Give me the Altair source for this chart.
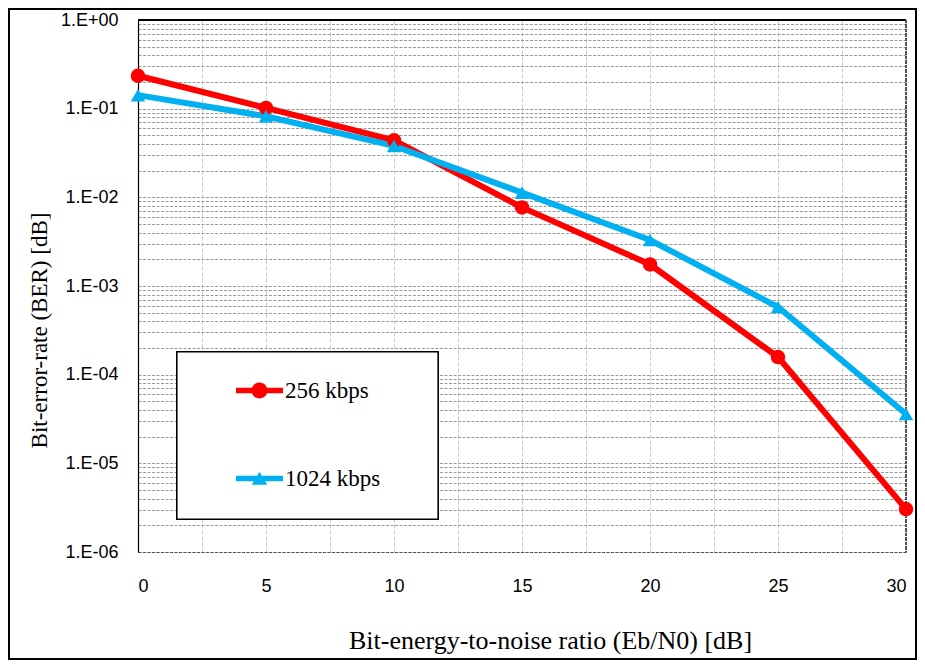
import altair as alt
import pandas as pd

# ---- data ----
ebn0 = [0, 5, 10, 15, 20, 25, 30]
ber_256 = [0.235, 0.102, 0.044, 0.0077, 0.00175, 0.000158, 3.05e-6]
ber_1024 = [0.142, 0.082, 0.038, 0.0113, 0.0033, 0.00058, 3.6e-5]
series_names = ["256 kbps", "1024 kbps"]
series_colors = ["#FF0000", "#00B0F0"]
x_tick_values = [0, 2.5, 5, 7.5, 10, 12.5, 15, 17.5, 20, 22.5, 25, 27.5, 30]
y_tick_values = [k * 10.0 ** e for e in range(-6, 0) for k in range(1, 10)] + [1.0]

rows = []
for name, vals in zip(series_names, [ber_256, ber_1024]):
    for x, y in zip(ebn0, vals):
        rows.append({"x": x, "ber": y, "series": name})
df = pd.DataFrame(rows)

# legend symbols: horizontal bar + marker (custom SVG paths, unit box -1..1)
circle_bar = ("M-1,-0.12 L1,-0.12 L1,0.12 L-1,0.12 Z "
              "M-0.34,0 A0.34,0.34 0 1,1 0.34,0 A0.34,0.34 0 1,1 -0.34,0 Z")
tri_bar = ("M-1,-0.12 L1,-0.12 L1,0.12 L-1,0.12 Z "
           "M0,-0.29 L0.33,0.27 L-0.33,0.27 Z")

W, H = 768, 532
sans = "Liberation Sans"
serif = "Liberation Serif"

label_expr = ("abs(log(datum.value)/LN10 - round(log(datum.value)/LN10)) < 0.001 ? "
              "('1.E' + (round(log(datum.value)/LN10) < 0 ? '-0' + abs(round(log(datum.value)/LN10)) : '+00')) : ''")

x_enc = alt.X("x:Q",
              scale=alt.Scale(domain=[0, 30], nice=False, zero=False),
              axis=alt.Axis(values=x_tick_values,
                            labelExpr="datum.value % 5 == 0 ? datum.label : ''",
                            title="Bit-energy-to-noise ratio (Eb/N0) [dB]",
                            titleFont=serif, titleFontSize=26, titleFontWeight="normal",
                            titleColor="black", titleX=412, titleY=75, titleBaseline="top",
                            labelFont=sans, labelFontSize=18, labelColor="black",
                            labelPadding=25, labelOverlap=False, ticks=False,
                            grid=True, gridColor="#c8c8c8", gridDash=[4, 2], gridWidth=1,
                            domain=True, domainColor="#555555", domainDash=[3, 1.5],
                            domainWidth=1.2))
y_enc = alt.Y("ber:Q",
              scale=alt.Scale(type="log", domain=[1e-6, 1], nice=False),
              axis=alt.Axis(values=y_tick_values, labelExpr=label_expr,
                            title="Bit-error-rate (BER) [dB]",
                            titleFont=serif, titleFontSize=23, titleFontWeight="normal",
                            titleColor="black", titleAngle=270, titleX=-87, titleY=310,
                            titleBaseline="bottom", titleAlign="center",
                            labelFont=sans, labelFontSize=18, labelColor="black",
                            labelPadding=20, labelOverlap=False, ticks=False,
                            grid=True, gridColor="#9a9a9a", gridDash=[3, 1.5], gridWidth=1,
                            domain=True, domainColor="black", domainWidth=1.2))

base = alt.Chart(df)

border = base.mark_rect(fill=None, stroke="black", strokeWidth=2, clip=False).encode(
    x=alt.value(-129), x2=alt.value(W + 10), y=alt.value(-11), y2=alt.value(H + 107))

legend_box = base.mark_rect(fill="white", stroke="black", strokeWidth=1.2, clip=False).encode(
    x=alt.value(39), x2=alt.value(300), y=alt.value(332), y2=alt.value(499))

top_rule = base.mark_rule(color="black", strokeWidth=1.2).encode(
    y=alt.datum(1.0, type="quantitative"), x=alt.value(0), x2=alt.value(W))
right_rule = base.mark_rule(color="#555555", strokeWidth=1.2, strokeDash=[3, 1.5]).encode(
    x=alt.datum(30, type="quantitative"), y=alt.value(0), y2=alt.value(H))

lines = base.mark_line(strokeWidth=6).encode(
    x=x_enc, y=y_enc,
    color=alt.Color("series:N", scale=alt.Scale(domain=series_names, range=series_colors),
                    legend=None),
    detail="series:N")

points = base.mark_point(filled=True, opacity=1, size=210).encode(
    x="x:Q", y="ber:Q",
    color=alt.Color("series:N", scale=alt.Scale(domain=series_names, range=series_colors),
                    legend=None),
    shape=alt.Shape("series:N", scale=alt.Scale(domain=series_names,
                                                range=["circle", "triangle-up"]),
                    legend=None))

leg = alt.Legend(title=None, orient="none", legendX=39, legendY=325,
                 symbolSize=2209, symbolStrokeWidth=0, symbolOpacity=1,
                 symbolOffset=37, labelOffset=2,
                 labelFont=serif, labelFontSize=23, labelColor="black",
                 padding=22, rowPadding=52)

legend_layer = base.transform_filter("false").mark_point(filled=True, opacity=1, size=2209).encode(
    x="x:Q", y="ber:Q",
    color=alt.Color("series:N", scale=alt.Scale(domain=series_names, range=series_colors),
                    legend=leg),
    shape=alt.Shape("series:N", scale=alt.Scale(domain=series_names,
                                                range=[circle_bar, tri_bar]),
                    legend=leg))

chart = alt.layer(legend_box, lines, top_rule, right_rule, points, legend_layer, border).resolve_scale(
    color="independent", shape="independent"
).properties(
    width=W, height=H,
    autosize=alt.AutoSizeParams(type="none"),
    padding={"left": 130, "top": 12, "right": 11, "bottom": 108},
).configure_view(stroke=None).configure(background="white").configure_legend(
    labelFont=serif, labelFontSize=23, labelColor="black",
)

chart.save("out.html", embed_options={"renderer": "svg", "actions": False})
